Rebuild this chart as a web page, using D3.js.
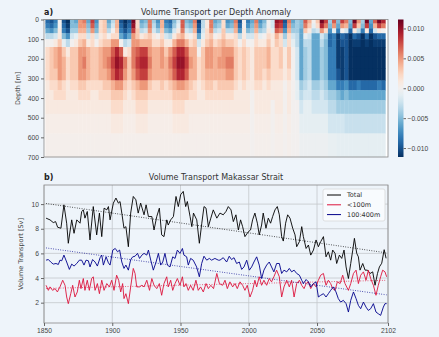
<!DOCTYPE html>
<html>
<head>
<meta charset="utf-8">
<title>Volume Transport Makassar Strait</title>
<script src="https://cdn.jsdelivr.net/npm/d3@7"></script>
<style>
  html, body { margin: 0; padding: 0; background: #eef4fa; }
  #figure { margin: 0; width: 439px; height: 337px; overflow: hidden; }
  svg { display: block; font-family: "DejaVu Sans", sans-serif; }
  .tick text { fill: #444; }
  .tick line { stroke: #666; }
</style>
</head>
<body>
<figure id="figure"></figure>
<script>
// ---------- data ----------

// a) anomaly per depth, units of 1e-3 (one row per depth layer, one value per 3-year column)
const depthEdges = [0, 20, 45, 70, 100, 140, 190, 250, 310, 360, 410, 480, 580, 700];
const columnEdges = [1851,1854,1857,1860,1863,1866,1869,1872,1875,1878,
  1881,1884,1887,1890,1893,1896,1899,1902,1905,1908,
  1911,1914,1917,1920,1923,1926,1929,1932,1935,1938,
  1941,1944,1947,1950,1953,1956,1959,1962,1965,1968,
  1971,1974,1977,1980,1983,1986,1989,1992,1995,1998,
  2001,2004,2007,2010,2013,2016,2019,2022,2025,2028,
  2031,2034,2037,2040,2043,2046,2049,2052,2055,2058,
  2061,2064,2067,2070,2073,2076,2079,2082,2085,2088,
  2091,2094,2097,2100];
const anomaly = [
  // 0-20 m
  [-9,-10,-8,0,-10,-12,-5,-6,5,6, -6,8,-7,2,3,-6,-3,4,-10,-12, -10,11,2,-6,-5,6,-4,-7,4,-8,
   -9,-5,-2,7,-5,-6,6,-11,-3,1, 6,-6,-5,2,-7,-6,6,-10,0,-8, -6,6,-7,-5,0,-2,10,9,-10,6,
   -6,-4,-5,7,4,0,3,11,8,-4, 7,-5,8,6,-5,11,5,-4,11,-6, 7,11,9],
  // 20-45 m
  [-8,-9,-7,0,-9,-11,-5,-5,5,5, -5,7,-6,2,3,-5,-2,4,-9,-11, -9,10,2,-5,-4,6,-3,-6,4,-7,
   -8,-4,-1,7,-4,-5,5,-10,-3,1, 6,-5,-4,2,-6,-5,5,-9,0,-7, -5,5,-6,-4,0,-2,9,8,-9,5,
   -5,-4,-5,6,3,-1,2,9,6,-5, 5,-6,5,4,-6,8,3,-5,8,-7, 4,8,6],
  // 45-70 m
  [-6,-7,-5,1,-8,-10,-4,-4,4,4, -4,5,-5,2,3,-3,0,3,-8,-10, -8,8,3,-3,-2,5,-2,-4,3,-5,
   -6,-2,1,6,-2,-3,4,-9,-2,2, 5,-3,-2,3,-3,-3,4,-7,1,-5, -4,4,-4,-3,1,-1,7,6,-7,4,
   -4,-4,-6,3,1,-3,-2,5,2,-7, -1,-8,0,-2,-9,1,-3,-8,1,-9, -2,1,0],
  // 70-100 m
  [-3,-3,-2,1,-5,-7,-2,-1,2,2, -2,2,-2,1,2,0,2,2,-6,-8, -6,5,3,1,2,3,1,0,2,-2,
   -3,1,3,4,1,0,2,-6,-1,2, 3,0,1,3,1,1,2,-3,1,-2, -2,2,-1,0,2,1,4,2,-4,2,
   -2,-3,-6,-1,-2,-6,-6,-2,-4,-9, -8,-11,-9,-10,-12,-9,-10,-12,-9,-12, -10,-9,-9],
  // 100-140 m
  [0,0,1,3,-1,-3,0,1,3,4, 1,2,0,2,3,3,5,5,0,-3, -2,5,5,4,4,4,2,2,3,1,
   1,4,6,6,4,2,3,-2,1,3, 4,2,3,4,3,3,2,0,2,0, 0,2,1,1,3,1,3,2,-2,2,
   -1,-3,-6,-3,-3,-6,-6,-3,-5,-9, -8,-11,-10,-10,-12,-11,-11,-12,-11,-12, -11,-11,-11],
  // 140-190 m
  [2,3,4,5,3,1,3,3,5,5, 4,3,3,4,5,5,7,9,7,1, 2,6,7,8,8,5,4,4,5,3,
   5,7,9,9,7,4,4,0,3,5, 5,4,4,5,5,5,3,2,3,2, 1,3,3,3,4,2,2,3,1,3,
   0,-2,-6,-4,-3,-6,-6,-4,-5,-8, -8,-11,-11,-10,-12,-12,-12,-12,-12,-12, -12,-12,-12],
  // 190-250 m
  [2,3,4,5,4,2,3,3,5,6, 4,3,3,4,5,6,8,10,9,6, 3,6,8,9,9,6,4,4,5,4,
   6,8,10,10,8,5,4,2,3,5, 5,4,5,5,6,6,3,2,3,2, 1,3,3,3,4,2,2,3,1,3,
   0,-2,-6,-4,-3,-6,-6,-4,-5,-8, -8,-11,-11,-10,-12,-12,-12,-12,-12,-12, -12,-12,-12],
  // 250-310 m
  [2,3,3,5,4,2,3,3,5,5, 4,3,3,4,4,5,7,9,8,5, 3,5,7,8,8,5,4,4,4,4,
   5,7,9,9,7,4,4,2,3,4, 4,4,4,4,5,5,3,2,3,2, 1,3,3,2,3,2,2,2,1,2,
   0,-2,-6,-4,-3,-6,-6,-4,-5,-8, -8,-10,-11,-10,-12,-12,-12,-12,-12,-12, -12,-12,-12],
  // 310-360 m
  [1,2,2,3,2,1,2,2,3,3, 2,2,2,2,3,3,4,5,5,3, 2,3,4,5,5,3,2,2,3,2,
   3,4,5,5,4,3,2,1,2,3, 3,2,3,3,3,3,2,1,2,1, 1,2,2,1,2,1,1,1,0,1,
   0,-1,-4,-3,-2,-4,-4,-3,-4,-6, -6,-8,-8,-7,-9,-9,-8,-9,-9,-9, -9,-8,-9],
  // 360-410 m
  [1,1,2,2,2,1,1,1,2,2, 2,1,1,2,2,2,3,3,3,2, 1,2,3,3,3,2,2,2,2,2,
   2,3,3,3,3,2,2,1,1,2, 2,2,2,2,2,2,1,1,1,1, 0,1,1,1,1,1,1,1,0,1,
   0,-1,-3,-2,-2,-3,-3,-2,-3,-4, -4,-5,-6,-5,-6,-6,-6,-6,-6,-6, -6,-6,-6],
  // 410-480 m
  [1,1,1,1,1,1,1,1,1,1, 1,1,1,1,1,1,2,2,2,1, 1,1,2,2,2,1,1,1,1,1,
   1,2,2,2,1,1,1,1,1,1, 1,1,1,1,1,1,1,1,1,1, 0,1,1,1,1,0,1,1,0,1,
   0,0,-2,-1,-1,-2,-2,-2,-2,-3, -3,-4,-4,-4,-4,-4,-4,-4,-4,-4, -4,-4,-4],
  // 480-580 m
  [0.5,0.5,0.5,0.5,0.5,0.5,0.5,0.5,0.5,0.5, 0.5,0.5,0.5,0.5,0.5,0.5,1,1,1,0.5, 0.5,0.5,1,1,1,0.5,0.5,0.5,0.5,0.5,
   0.5,1,1,1,1,0.5,0.5,0.5,0.5,0.5, 0.5,0.5,0.5,0.5,0.5,0.5,0.5,0.5,0.5,0.5, 0,0.5,0.5,0.5,0.5,0,0.5,0.5,0,0.5,
   0,0,-1,-1,-1,-1,-1,-1,-1,-2, -2,-2,-2,-2.5,-2.5,-2.5,-2.5,-2.5,-2.5,-2.5, -2.5,-2.5,-2.5],
  // 580-700 m
  [0.3,0.3,0.3,0.3,0.3,0.3,0.3,0.3,0.3,0.3, 0.3,0.3,0.3,0.3,0.3,0.3,0.3,0.3,0.3,0.3, 0.3,0.3,0.3,0.3,0.3,0.3,0.3,0.3,0.3,0.3,
   0.3,0.3,0.3,0.3,0.3,0.3,0.3,0.3,0.3,0.3, 0.3,0.3,0.3,0.3,0.3,0.3,0.3,0.3,0.3,0.3, 0,0.3,0.3,0.3,0.3,0,0.3,0.3,0,0.3,
   0,0,-0.5,-0.5,-0.5,-0.5,-0.5,-0.5,-0.5,-0.8, -0.8,-1,-1,-1,-1,-1,-1,-1,-1,-1, -1,-1,-1]
];
const depthTicks = [0, 100, 200, 300, 400, 500, 600, 700];
const colorTicks = [-10, -5, 0, 5, 10];

// b) volume transport [Sv], [year, value]
const totalSeries = [[1851.5,8.86],[1854.4,8.72],[1856.8,8.5],[1858.5,8.58],[1860,8.12],[1862.4,8.04],[1864.6,9.94],[1866.6,8.45],[1867.8,6.82],[1870.3,8.72],[1872,7.63],[1874,8.72],[1876.4,8.45],[1877.6,9.4],[1878.8,9.53],[1880,8.86],[1881.7,9.4],[1883.7,7.09],[1886.1,9.8],[1888.6,7.5],[1890.6,9.27],[1892.3,7.36],[1894,9.67],[1896,9.53],[1897.2,9.8],[1898.4,8.72],[1900.8,10.08],[1902.7,10.49],[1904.5,10.08],[1905.7,10.21],[1907,9.27],[1908.6,8.04],[1910,8.17],[1911.8,6.54],[1913.5,9.27],[1915.4,10.62],[1917.3,10.35],[1919,9.27],[1920.8,10.08],[1923.3,9.13],[1924.8,9.94],[1926.5,8.99],[1929,8.99],[1930.6,7.9],[1932.6,8.99],[1934.5,9.67],[1936.2,7.5],[1937.9,7.36],[1939.9,8.72],[1941,8.3],[1942.8,8.72],[1944.8,8.99],[1946.7,10.62],[1948.4,9.8],[1950.1,10.76],[1952,11.03],[1953.8,9.8],[1955,10.21],[1957,8.99],[1958.3,8.17],[1959.5,9.27],[1961.9,8.72],[1963.8,6.82],[1965.6,8.45],[1967.2,9.8],[1968.7,9.67],[1970.4,8.17],[1972.2,8.86],[1974,9.53],[1976.6,8.86],[1978.9,9.27],[1981.3,9.13],[1983.3,9.4],[1985,9.8],[1987,9.53],[1988.7,8.58],[1990.6,9.13],[1992.4,7.9],[1994,8.72],[1995.5,8.17],[1997.2,7.36],[1999.7,7.76],[2001.3,7.9],[2002.8,8.72],[2004.5,9.27],[2006.3,8.45],[2007.7,7.5],[2009.4,8.3],[2010.6,9.27],[2012.6,8.04],[2014.3,8.86],[2016,8.45],[2017.5,8.99],[2019.2,9.53],[2020.9,9.8],[2022.4,9.13],[2024.1,7.36],[2025.3,7.0],[2027,8.45],[2028.5,9.13],[2030.2,8.86],[2032.2,8.04],[2033.9,7.5],[2035.1,6.54],[2037.1,6.95],[2038.8,8.17],[2040,7.36],[2042,6.4],[2043.7,6.68],[2045.4,5.86],[2047.4,6.27],[2049.3,7.09],[2051,6.54],[2052.7,6.95],[2054.7,7.36],[2056.6,5.72],[2058.3,6.13],[2060,5.45],[2061.5,6.27],[2063.2,6.0],[2064.4,5.18],[2066.4,5.86],[2068.1,5.59],[2069.8,6.27],[2071.3,4.9],[2073,3.96],[2074.7,5.18],[2076.2,6.27],[2077.4,7.22],[2079.1,6.0],[2080.3,5.72],[2081.5,4.64],[2083.5,5.18],[2085.2,4.64],[2086.9,4.64],[2088.9,4.37],[2090.8,4.5],[2092.5,3.41],[2094.3,4.37],[2095.7,4.9],[2097.4,5.2],[2099.2,6.3],[2100.6,5.6]];

const shallowSeries = [[1851.5,3.41],[1853.2,3.0],[1854.4,3.28],[1856.3,3.0],[1858.1,3.14],[1859.8,2.87],[1861.7,3.28],[1863.7,3.82],[1865.4,3.41],[1866.6,2.46],[1867.8,1.92],[1869.6,2.73],[1871,3.41],[1872.7,2.46],[1874.4,2.87],[1875.9,3.82],[1877.1,3.14],[1878.8,3.96],[1880,3.0],[1881.7,3.82],[1883.2,3.0],[1884.9,3.96],[1886.1,4.1],[1887.4,3.0],[1889.1,3.55],[1890.6,2.73],[1892.3,3.82],[1894,3.0],[1896,3.55],[1897.9,3.28],[1899.6,3.82],[1901.3,3.0],[1903.2,4.23],[1904.7,3.82],[1906.2,2.87],[1907.6,3.55],[1908.6,2.33],[1910,2.73],[1911.8,1.92],[1913.5,3.28],[1915.4,4.78],[1916.7,4.37],[1917.9,3.28],[1920,3.28],[1921.7,3.41],[1923.3,3.28],[1925.3,3.82],[1927.3,3.0],[1929,3.96],[1930.6,3.41],[1932.6,3.14],[1934.5,3.55],[1936.2,2.6],[1937.9,3.55],[1939.9,4.1],[1941,3.28],[1942.8,3.82],[1944.3,3.0],[1946,3.55],[1947.7,3.96],[1949.6,3.41],[1951.4,4.1],[1952.5,3.28],[1954,3.55],[1955.7,3.0],[1957.4,3.41],[1959.3,3.0],[1961.3,3.82],[1963,3.0],[1964.7,3.28],[1966.7,2.87],[1968.7,3.55],[1970.4,3.14],[1972.2,3.41],[1974.2,3.14],[1976.6,4.37],[1978.5,3.55],[1980.8,3.41],[1982.6,3.82],[1984.3,3.14],[1986.2,3.69],[1988.2,3.28],[1989.9,3.55],[1991.6,3.14],[1993.6,3.69],[1995.5,3.41],[1997.2,3.0],[1998.9,3.41],[2000.9,2.46],[2002.8,3.0],[2004.5,3.82],[2005.8,3.28],[2007.7,4.1],[2009.4,3.41],[2011.1,3.82],[2013.1,3.41],[2015,3.96],[2016.7,3.69],[2018.4,4.1],[2020.4,4.64],[2022.4,4.1],[2024.1,2.46],[2025.8,3.28],[2027.8,3.82],[2029.7,3.28],[2031.4,3.82],[2033.2,2.46],[2035.1,3.55],[2037.1,3.82],[2038.8,3.41],[2040.5,3.14],[2042,3.55],[2043.7,3.69],[2045.4,3.14],[2047.4,3.55],[2049.3,3.28],[2051,3.82],[2052.7,4.23],[2054.7,4.37],[2056.6,3.41],[2058.3,3.82],[2060,3.55],[2061.5,3.14],[2063.2,3.0],[2064.9,3.69],[2066.9,3.55],[2068.8,4.23],[2070.5,3.55],[2073,3.0],[2074.7,3.55],[2076.7,4.37],[2078.6,4.64],[2080.3,3.55],[2082,4.23],[2084,4.5],[2085.9,3.82],[2087.6,4.64],[2089.3,3.96],[2091.3,3.41],[2093.2,2.6],[2094.9,3.41],[2096.6,4.1],[2098.1,4.64],[2099.8,4.5],[2101,4.1]];

const midSeries = [[1851.5,5.45],[1853.2,5.5],[1854.9,5.3],[1856.8,5.13],[1858.8,5.18],[1860.5,5.1],[1861.7,5.45],[1863,5.4],[1864.6,5.86],[1866.6,5.3],[1868.6,4.7],[1870.3,5.13],[1872,4.97],[1874,5.18],[1875.9,5.45],[1877.6,5.45],[1879.3,5.05],[1880.8,5.45],[1882.5,5.4],[1883.7,4.9],[1885.6,5.5],[1887.4,5.3],[1889.1,4.97],[1891.1,5.65],[1892.3,5.86],[1893.5,5.05],[1895.5,5.72],[1897.2,5.23],[1898.4,5.05],[1900.4,6.27],[1902.2,6.4],[1903.9,6.13],[1905.4,6.27],[1907,5.3],[1908.6,4.78],[1910,5.05],[1911.8,4.64],[1913.5,5.5],[1915,5.72],[1916.7,5.77],[1918.5,6.0],[1920,5.59],[1921.7,5.86],[1923.3,6.0],[1925.3,5.86],[1926.5,6.27],[1928.2,5.45],[1930.1,4.64],[1932.1,5.3],[1933.8,6.0],[1935.5,5.05],[1937,5.3],[1938.6,6.0],[1940.4,5.05],[1942.3,4.9],[1944.3,5.72],[1946,5.59],[1947.7,6.27],[1949.6,6.0],[1951.4,6.4],[1952.5,5.86],[1954.5,5.72],[1955.7,5.05],[1957.4,5.59],[1959.3,5.45],[1961.8,4.9],[1963.8,4.1],[1965.5,5.18],[1967.2,5.77],[1969.2,5.45],[1971.1,5.59],[1972.8,5.45],[1975.2,5.59],[1977.7,5.45],[1978.9,5.45],[1981.3,5.65],[1983.8,5.3],[1985.7,5.77],[1987.4,5.5],[1989.2,5.65],[1991.1,5.18],[1993.1,5.3],[1994.8,4.7],[1996.5,4.9],[1998.5,5.45],[2000.4,4.64],[2002.1,4.9],[2003.8,5.3],[2005.8,5.72],[2007.7,5.05],[2009.4,3.96],[2011.1,4.64],[2013.1,5.05],[2015,5.3],[2016.7,4.9],[2018.4,4.5],[2020.4,5.18],[2022.4,5.18],[2024.1,4.37],[2025.8,4.64],[2027.8,4.5],[2029.7,4.78],[2031.4,4.5],[2033.2,4.64],[2035.1,4.37],[2037.1,4.23],[2038.8,3.82],[2040,3.55],[2042,3.88],[2043.7,3.69],[2045.4,3.28],[2047.4,3.55],[2049.3,3.69],[2051,2.46],[2052.7,2.6],[2054.7,2.73],[2056.6,2.46],[2058.3,2.73],[2060,3.0],[2062,3.28],[2063.9,2.87],[2065.6,2.33],[2067.3,2.05],[2069.3,2.19],[2071.3,1.92],[2073,1.24],[2074.7,2.19],[2076.7,2.87],[2078.6,2.33],[2080.3,1.78],[2082,1.51],[2084,2.05],[2085.9,1.64],[2087.6,1.37],[2089.3,1.51],[2091.3,1.92],[2093.2,1.24],[2094.9,1.1],[2096.6,0.97],[2098.6,1.64],[2099.8,1.92],[2101,1.92]];

const seriesNames = ["Total", "<100m", "100:400m"];
const seriesColors = ["#000000", "#dc143c", "#00008b"];
const yearTicks = [1850, 1900, 1950, 2000, 2050, 2102];
const transportTicks = [2, 4, 6, 8, 10];

// ---------- layout ----------
const width = 439, height = 337;
const plotLeft = 44, plotRight = 388;
const topY0 = 19.5, topY1 = 157;
const botY0 = 185, botY1 = 323;
const tickFont = "6.7px";

const svg = d3.select("#figure").append("svg")
  .attr("width", width)
  .attr("height", height);

const x = d3.scaleLinear().domain([1850, 2102]).range([plotLeft, plotRight]);
const yDepth = d3.scaleLinear().domain([0, 700]).range([topY0, topY1]);
const yTrans = d3.scaleLinear().domain([0.35, 11.55]).range([botY1, botY0]);
const color = d3.scaleSequential(t => d3.interpolateRdBu(1 - t)).domain([-11.5, 11.5]).clamp(true);

// ---------- a) heat map ----------
const panelA = svg.append("g");

panelA.append("rect")
  .attr("x", plotLeft).attr("y", topY0)
  .attr("width", plotRight - plotLeft).attr("height", topY1 - topY0)
  .attr("fill", "#ffffff");

const cells = [];
anomaly.forEach((row, r) => {
  row.forEach((v, c) => {
    if (c + 1 >= columnEdges.length) return;
    cells.push({ t0: columnEdges[c], t1: columnEdges[c + 1], d0: depthEdges[r], d1: depthEdges[r + 1], v: v });
  });
});

panelA.append("g")
  .selectAll("rect")
  .data(cells)
  .join("rect")
  .attr("x", d => x(d.t0))
  .attr("y", d => yDepth(d.d0))
  .attr("width", d => x(d.t1) - x(d.t0) + 0.4)
  .attr("height", d => yDepth(d.d1) - yDepth(d.d0) + 0.4)
  .attr("fill", d => color(d.v));

panelA.append("rect")
  .attr("x", plotLeft).attr("y", topY0)
  .attr("width", plotRight - plotLeft).attr("height", topY1 - topY0)
  .attr("fill", "none").attr("stroke", "#888").attr("stroke-width", 0.8);

panelA.append("g")
  .attr("transform", "translate(" + plotLeft + ",0)")
  .call(d3.axisLeft(yDepth).tickValues(depthTicks).tickSize(3).tickPadding(2))
  .call(g => g.select(".domain").remove())
  .selectAll("text").style("font-size", tickFont);

panelA.append("text")
  .attr("transform", "translate(20," + ((topY0 + topY1) / 2) + ") rotate(-90)")
  .attr("text-anchor", "middle")
  .style("font-size", "6.5px").attr("fill", "#444")
  .text("Depth [m]");

panelA.append("text")
  .attr("x", plotLeft).attr("y", 15)
  .style("font-size", "8px").style("font-weight", "bold").attr("fill", "#222")
  .text("a)");

panelA.append("text")
  .attr("x", (plotLeft + plotRight) / 2).attr("y", 15)
  .attr("text-anchor", "middle")
  .style("font-size", "8px").attr("fill", "#333")
  .text("Volume Transport per Depth Anomaly");

// colour bar
const cbX = 398, cbW = 5.5;
const yColor = d3.scaleLinear().domain([-11.5, 11.5]).range([topY1, topY0]);
const grad = svg.append("defs").append("linearGradient")
  .attr("id", "cbgrad").attr("x1", 0).attr("x2", 0).attr("y1", 1).attr("y2", 0);
grad.selectAll("stop")
  .data(d3.range(0, 1.0001, 0.05))
  .join("stop")
  .attr("offset", d => d)
  .attr("stop-color", d => color(-11.5 + d * 23));

svg.append("rect")
  .attr("x", cbX).attr("y", topY0)
  .attr("width", cbW).attr("height", topY1 - topY0)
  .attr("fill", "url(#cbgrad)");

svg.append("g")
  .attr("transform", "translate(" + (cbX + cbW) + ",0)")
  .call(d3.axisRight(yColor).tickValues(colorTicks).tickSize(2.5).tickPadding(1.5)
    .tickFormat(v => d3.format(".3f")(v / 1000)))
  .call(g => g.select(".domain").remove())
  .selectAll("text").style("font-size", tickFont);

// ---------- b) line chart ----------
const panelB = svg.append("g");

panelB.append("g")
  .selectAll("line")
  .data(yearTicks)
  .join("line")
  .attr("x1", d => x(d)).attr("x2", d => x(d))
  .attr("y1", botY0).attr("y2", botY1)
  .attr("stroke", "#c4c8cc").attr("stroke-width", 0.8);

panelB.append("g")
  .selectAll("line")
  .data(transportTicks)
  .join("line")
  .attr("x1", plotLeft).attr("x2", plotRight)
  .attr("y1", d => yTrans(d)).attr("y2", d => yTrans(d))
  .attr("stroke", "#c4c8cc").attr("stroke-width", 0.8);

function trend(pts) {
  const mx = d3.mean(pts, d => d[0]);
  const my = d3.mean(pts, d => d[1]);
  const slope = d3.sum(pts, d => (d[0] - mx) * (d[1] - my)) / d3.sum(pts, d => (d[0] - mx) * (d[0] - mx));
  const t0 = pts[0][0], t1 = pts[pts.length - 1][0];
  return [[t0, my + slope * (t0 - mx)], [t1, my + slope * (t1 - mx)]];
}

const line = d3.line().x(d => x(d[0])).y(d => yTrans(d[1]));
const allSeries = [totalSeries, shallowSeries, midSeries];

allSeries.forEach((s, i) => {
  panelB.append("path")
    .datum(trend(s))
    .attr("d", line)
    .attr("fill", "none")
    .attr("stroke", seriesColors[i])
    .attr("stroke-width", 0.8)
    .attr("stroke-dasharray", "0.8,1.6");
});

allSeries.forEach((s, i) => {
  panelB.append("path")
    .datum(s)
    .attr("d", line)
    .attr("fill", "none")
    .attr("stroke", seriesColors[i])
    .attr("stroke-width", 0.9)
    .attr("stroke-linejoin", "round");
});

panelB.append("rect")
  .attr("x", plotLeft).attr("y", botY0)
  .attr("width", plotRight - plotLeft).attr("height", botY1 - botY0)
  .attr("fill", "none").attr("stroke", "#888").attr("stroke-width", 0.8);

panelB.append("g")
  .attr("transform", "translate(" + plotLeft + ",0)")
  .call(d3.axisLeft(yTrans).tickValues(transportTicks).tickSize(3).tickPadding(2))
  .call(g => g.select(".domain").remove())
  .selectAll("text").style("font-size", tickFont);

panelB.append("g")
  .attr("transform", "translate(0," + botY1 + ")")
  .call(d3.axisBottom(x).tickValues(yearTicks).tickSize(3).tickPadding(2).tickFormat(d3.format("d")))
  .call(g => g.select(".domain").remove())
  .selectAll("text").style("font-size", tickFont);

panelB.append("text")
  .attr("transform", "translate(23," + ((botY0 + botY1) / 2) + ") rotate(-90)")
  .attr("text-anchor", "middle")
  .style("font-size", "6.5px").attr("fill", "#444")
  .text("Volume Transport [Sv]");

panelB.append("text")
  .attr("x", plotLeft).attr("y", 180)
  .style("font-size", "8px").style("font-weight", "bold").attr("fill", "#222")
  .text("b)");

panelB.append("text")
  .attr("x", (plotLeft + plotRight) / 2).attr("y", 180)
  .attr("text-anchor", "middle")
  .style("font-size", "8px").attr("fill", "#333")
  .text("Volume Transport Makassar Strait");

// legend
const legend = panelB.append("g").attr("transform", "translate(323,189)");
legend.append("rect")
  .attr("width", 62).attr("height", 32).attr("rx", 2)
  .attr("fill", "#f8fbfe").attr("stroke", "#d4d4d4").attr("stroke-width", 0.7);

const items = legend.selectAll("g")
  .data(seriesNames)
  .join("g")
  .attr("transform", (d, i) => "translate(0," + (6 + i * 9.8) + ")");
items.append("line")
  .attr("x1", 4).attr("x2", 18)
  .attr("stroke", (d, i) => seriesColors[i]).attr("stroke-width", 1);
items.append("text")
  .attr("x", 24).attr("dy", "0.35em")
  .style("font-size", "6.5px").attr("fill", "#333")
  .text(d => d);
</script>
</body>
</html>
